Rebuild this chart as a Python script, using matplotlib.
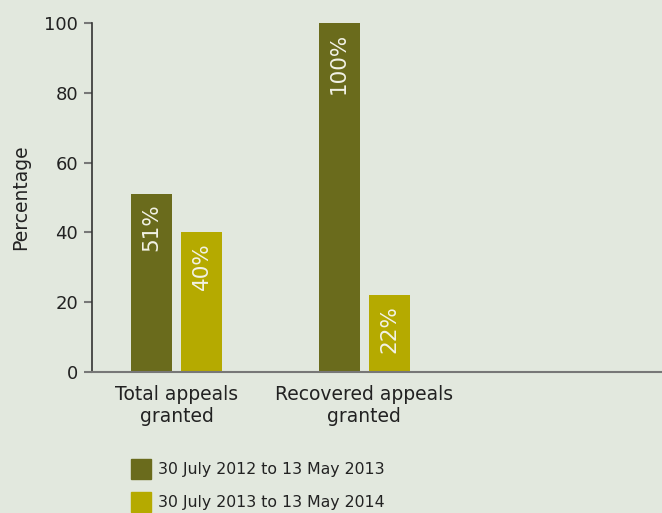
import matplotlib
matplotlib.use("Agg")
import matplotlib.pyplot as plt
import numpy as np
from matplotlib.patches import Patch

categories = ["Total appeals\ngranted", "Recovered appeals\ngranted"]
series_labels = ["30 July 2012 to 13 May 2013", "30 July 2013 to 13 May 2014"]
values_2013 = [51, 100]
values_2014 = [40, 22]
yticks = [0, 20, 40, 60, 80, 100]

BG = "#e2e8de"
DARK = "#6a6b1c"
YELLOW = "#b5aa00"
TEXT = "#222222"

plt.rcParams["font.family"] = ["DejaVu Sans"]

fig = plt.figure(figsize=(6.62, 5.13), dpi=100, facecolor=BG)
ax = fig.add_axes([92 / 662, 141 / 513, 1 - 92 / 662, 349 / 513], facecolor=BG)

x = np.arange(len(categories))
width = 0.219
offset = 0.1333
bars1 = ax.bar(x - offset, values_2013, width, color=DARK)
bars2 = ax.bar(x + offset, values_2014, width, color=YELLOW)

for bars in (bars1, bars2):
    for b in bars:
        ax.annotate(f"{b.get_height():.0f}%",
                    (b.get_x() + b.get_width() / 2, b.get_height()),
                    xytext=(0, -7), textcoords="offset points",
                    rotation=90, ha="center", va="top",
                    color="#f2f2e6", fontsize=15.5)

ax.set_xlim(-0.451, 2.589)
ax.set_ylim(0, 100)
ax.set_xticks(x)
ax.set_xticklabels(categories, fontsize=13.5, color=TEXT, linespacing=1.25)
ax.tick_params(axis="x", length=0, pad=9)
ax.set_yticks(yticks)
ax.tick_params(axis="y", length=6, width=1.5, color="#777777",
               labelsize=13, labelcolor=TEXT, pad=4)
ax.set_ylabel("Percentage", fontsize=13.5, color=TEXT, labelpad=10)

for s in ("top", "right"):
    ax.spines[s].set_visible(False)
ax.spines["left"].set_color("#333333")
ax.spines["left"].set_linewidth(1.2)
ax.spines["bottom"].set_color("#777777")
ax.spines["bottom"].set_linewidth(1.5)

handles = [Patch(color=DARK), Patch(color=YELLOW)]
fig.legend(handles, series_labels, loc="upper left",
           bbox_to_anchor=(131 / 662, 1 - 459 / 513),
           frameon=False, fontsize=11.3, handlelength=1.3, handleheight=1.55,
           handletextpad=0.4, labelspacing=0.87, borderaxespad=0,
           borderpad=0, labelcolor=TEXT)

fig.savefig("out.png", dpi=100, facecolor=BG)
